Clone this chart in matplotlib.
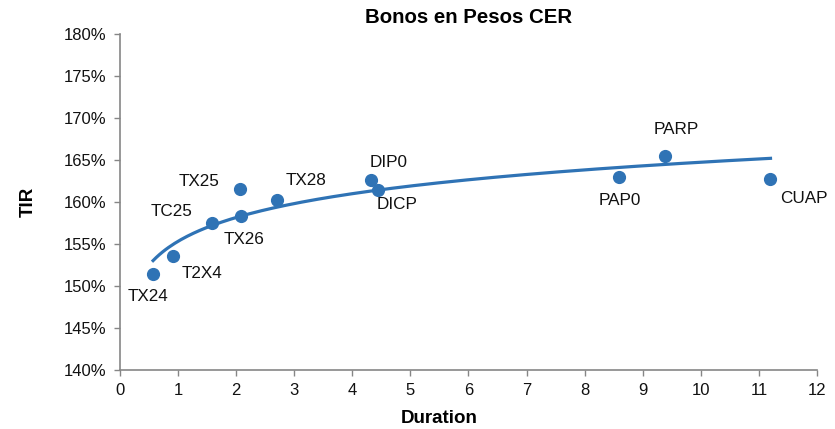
import numpy as np
import matplotlib
matplotlib.use("Agg")
import matplotlib.pyplot as plt
from matplotlib.ticker import FuncFormatter

plt.rcParams['font.family'] = ['Liberation Sans', 'DejaVu Sans']

# bonos: duration y TIR (%)
bonos = ['TX24', 'T2X4', 'TC25', 'TX26', 'TX25', 'TX28', 'DIP0', 'DICP', 'PAP0', 'PARP', 'CUAP']
duration = [0.57, 0.91, 1.58, 2.09, 2.07, 2.70, 4.33, 4.44, 8.59, 9.38, 11.20]
tir = [151.4, 153.6, 157.5, 158.3, 161.5, 160.2, 162.6, 161.4, 163.0, 165.5, 162.7]

# posicion de cada etiqueta respecto del punto (puntos tipograficos)
offsets = {
    'TX24': (-4, -16), 'T2X4': (21, -13), 'TC25': (-29, 8), 'TX26': (2, -17),
    'TX25': (-30, 6), 'TX28': (21, 14), 'DIP0': (12, 13), 'DICP': (14, -10),
    'PAP0': (1, -17), 'PARP': (8, 19), 'CUAP': (24, -14),
}

azul = '#2F73B5'
gris = '#868686'

fig = plt.figure(figsize=(8.35, 4.29), dpi=100)
ax = fig.add_axes([0.1437, 0.1375, 0.8347, 0.7832])

ax.scatter(duration, tir, s=72, color=azul, zorder=3)

# linea de tendencia logaritmica
x = np.array(duration)
coef = np.polyfit(np.log(x), np.array(tir), 1)
xs = np.linspace(x.min(), x.max(), 200)
ax.plot(xs, coef[0] * np.log(xs) + coef[1], color=azul, lw=2.3, zorder=2)

for b, d, t in zip(bonos, duration, tir):
    ax.annotate(b, (d, t), xytext=offsets[b], textcoords='offset points',
                ha='center', va='center', fontsize=12.3, color='#111111')

ax.set_xlim(0, 12)
ax.set_ylim(140, 180)
ax.set_xticks(range(0, 13))
ax.set_yticks(range(140, 181, 5))
ax.yaxis.set_major_formatter(FuncFormatter(lambda v, p: '%d%%' % v))

for s in ['top', 'right']:
    ax.spines[s].set_visible(False)
for s in ['left', 'bottom']:
    ax.spines[s].set_color(gris)
    ax.spines[s].set_linewidth(1.2)
ax.tick_params(colors=gris, labelcolor='#111111', labelsize=12, length=4, width=1)
ax.tick_params(axis='y', pad=6)
ax.tick_params(axis='x', pad=5)

ax.set_title('Bonos en Pesos CER', fontsize=14.7, fontweight='bold', y=1.048, va='center', pad=0)
ax.set_xlabel('Duration', fontsize=13.5, fontweight='bold')
ax.set_ylabel('TIR', fontsize=13.5, fontweight='bold')
ax.xaxis.set_label_coords(0.458, -0.143)
ax.xaxis.label.set_va('center')
ax.yaxis.set_label_coords(-0.131, 0.5)
ax.yaxis.label.set_va('center')

fig.savefig('out.png', dpi=100)
